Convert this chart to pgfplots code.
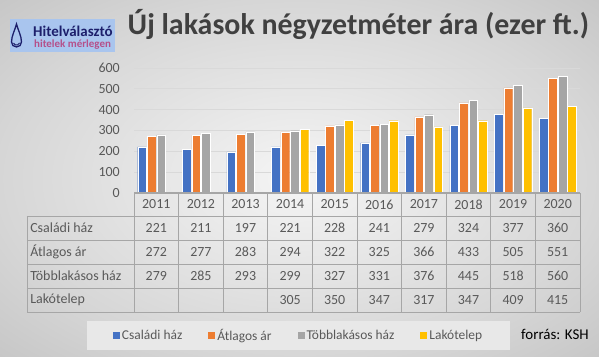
\documentclass[border=0pt]{standalone}
\usepackage{pgfplots}
\pgfplotsset{compat=1.18}
\usepackage{fontspec}
\setmainfont{Carlito}[BoldFont={Carlito Bold}]
\definecolor{cblue}{HTML}{4472C4}
\definecolor{corange}{HTML}{ED7D31}
\definecolor{cgray}{HTML}{A5A5A5}
\definecolor{cgold}{HTML}{FFC000}
\definecolor{txt}{HTML}{595959}
\definecolor{titlecol}{HTML}{404040}
\definecolor{linecol}{HTML}{A6A6A6}
\definecolor{gridcol}{HTML}{D9D9D9}
\definecolor{logobg}{HTML}{A9C5EE}
\definecolor{navy}{HTML}{1C1F6B}
\definecolor{logopink}{HTML}{B5508A}
\tikzset{tl/.style={linecol, line width=0.8pt}}
\pgfdeclareradialshading{bgshade}{\pgfpoint{0bp}{0bp}}{color(0bp)=(gray!8); color(25bp)=(gray!32); color(35.4bp)=(gray!44); color(50bp)=(gray!44)}
\begin{document}
\begin{tikzpicture}
\path[use as bounding box] (0,0) rectangle (599bp,-357bp);
\shade[shading=bgshade] (0,0) rectangle (599bp,-357bp);
% logo
\fill[logobg] (10bp,-19bp) rectangle (115bp,-52bp);
\draw[navy, line width=1.3bp] (16.5bp,-24bp) .. controls (15bp,-30bp) and (11.5bp,-36bp) .. (11.5bp,-42bp) arc[start angle=180, end angle=360, radius=5bp] .. controls (21.5bp,-36bp) and (18bp,-30bp) .. cycle;
\draw[navy, line width=1bp] (13.5bp,-43bp) arc[start angle=200, end angle=340, radius=3.2bp];
\node[anchor=base west, inner sep=0pt, text depth=0pt, text=navy, font=\bfseries\fontsize{15}{16}\selectfont] at (33bp,-36.5bp) {Hitelválasztó};
\node[anchor=base west, inner sep=0pt, text height=7bp, text=logopink, font=\bfseries\fontsize{11}{12}\selectfont] at (34bp,-47bp) {hitelek mérlegen};
% title
\node[anchor=base, inner sep=0pt, text=titlecol, font=\bfseries\fontsize{30}{34}\selectfont] at (358.5bp,-34bp) {Új lakások négyzetméter ára (ezer ft.)};
\node[anchor=center, inner sep=0pt, text=black, font=\fontsize{15}{17}\selectfont] at (555bp,-334.5bp) {forrás: KSH};
\begin{axis}[
  at={(134bp,-193bp)}, anchor=south west,
  scale only axis, width=446bp, height=125bp,
  xmin=-0.5, xmax=9.5, ymin=0, ymax=600,
  xtick=\empty,
  ytick={0,100,...,600},
  ymajorgrids, grid style={gridcol, line width=0.9pt},
  axis line style={draw=none}, tick style={draw=none},
  yticklabel style={font=\fontsize{14}{16}\selectfont, text=txt, inner sep=0pt},
  /pgf/number format/assume math mode=true,
  yticklabel shift=14bp,
  clip=false,
  bar width=0.195,
  legend columns=4,
  legend style={at={(0.369,-1.14)}, anchor=center, fill=black!9, draw=none,
    font=\fontsize{13.5}{16}\selectfont, text=txt, inner xsep=26bp, inner ysep=6bp,
    /tikz/every even column/.append style={column sep=24bp}},
  legend image code/.code={\fill[#1, draw=none, /tikz/.cd] (0bp,-3.5bp) rectangle (7bp,3.5bp);},
]
\addplot[ybar, bar shift=-0.32, fill=cblue, draw=white, line width=0.3pt] coordinates {(0,221) (1,211) (2,197) (3,221) (4,228) (5,241) (6,279) (7,324) (8,377) (9,360)};
\addlegendentry{Családi ház}
\addplot[ybar, bar shift=-0.107, fill=corange, draw=white, line width=0.3pt] coordinates {(0,272) (1,277) (2,283) (3,294) (4,322) (5,325) (6,366) (7,433) (8,505) (9,551)};
\addlegendentry{Átlagos ár}
\addplot[ybar, bar shift=0.107, fill=cgray, draw=white, line width=0.3pt] coordinates {(0,279) (1,285) (2,293) (3,299) (4,327) (5,331) (6,376) (7,445) (8,518) (9,560)};
\addlegendentry{Többlakásos ház}
\addplot[ybar, bar shift=0.32, fill=cgold, draw=white, line width=0.3pt] coordinates {(3,305) (4,350) (5,347) (6,317) (7,347) (8,409) (9,415)};
\addlegendentry{Lakótelep}
% axis base line
\draw[linecol, line width=1.2pt] (axis cs:-0.5,0) -- (axis cs:9.5,0);
% table grid
\draw[tl] (axis cs:-2.9,-110) -- (axis cs:9.5,-110);
\draw[tl] (axis cs:-2.9,-226) -- (axis cs:9.5,-226);
\draw[tl] (axis cs:-2.9,-341) -- (axis cs:9.5,-341);
\draw[tl] (axis cs:-2.9,-456) -- (axis cs:9.5,-456);
\draw[tl] (axis cs:-2.9,-571) -- (axis cs:9.5,-571);
\draw[tl] (axis cs:-2.9,-110) -- (axis cs:-2.9,-571);
\draw[tl] (axis cs:-0.5,0) -- (axis cs:-0.5,-571);
\draw[tl] (axis cs:0.5,0) -- (axis cs:0.5,-571);
\draw[tl] (axis cs:1.5,0) -- (axis cs:1.5,-571);
\draw[tl] (axis cs:2.5,0) -- (axis cs:2.5,-571);
\draw[tl] (axis cs:3.5,0) -- (axis cs:3.5,-571);
\draw[tl] (axis cs:4.5,0) -- (axis cs:4.5,-571);
\draw[tl] (axis cs:5.5,0) -- (axis cs:5.5,-571);
\draw[tl] (axis cs:6.5,0) -- (axis cs:6.5,-571);
\draw[tl] (axis cs:7.5,0) -- (axis cs:7.5,-571);
\draw[tl] (axis cs:8.5,0) -- (axis cs:8.5,-571);
\draw[tl] (axis cs:9.5,0) -- (axis cs:9.5,-571);
% table text
\pgfplotsset{tabrow/.style={forget plot, only marks, mark=*, mark size=0pt, mark options={draw=none, fill=none},
  nodes near coords, point meta=explicit symbolic,
  nodes near coords style={anchor=center, inner sep=0pt, text=txt, font=\fontsize{14}{16}\selectfont}}}
\addplot[tabrow] coordinates {(0,-55)[2011] (1,-55)[2012] (2,-55)[2013] (3,-55)[2014] (4,-55)[2015] (5,-55)[2016] (6,-55)[2017] (7,-55)[2018] (8,-55)[2019] (9,-55)[2020]};
\addplot[tabrow] coordinates {(0,-168)[221] (1,-168)[211] (2,-168)[197] (3,-168)[221] (4,-168)[228] (5,-168)[241] (6,-168)[279] (7,-168)[324] (8,-168)[377] (9,-168)[360]};
\addplot[tabrow] coordinates {(0,-283)[272] (1,-283)[277] (2,-283)[283] (3,-283)[294] (4,-283)[322] (5,-283)[325] (6,-283)[366] (7,-283)[433] (8,-283)[505] (9,-283)[551]};
\addplot[tabrow] coordinates {(0,-398)[279] (1,-398)[285] (2,-398)[293] (3,-398)[299] (4,-398)[327] (5,-398)[331] (6,-398)[376] (7,-398)[445] (8,-398)[518] (9,-398)[560]};
\addplot[tabrow] coordinates {(3,-514)[305] (4,-514)[350] (5,-514)[347] (6,-514)[317] (7,-514)[347] (8,-514)[409] (9,-514)[415]};
\node[anchor=west, inner sep=0pt, text=txt, font=\fontsize{14}{16}\selectfont] at (axis cs:-2.83,-168) {Családi ház};
\node[anchor=west, inner sep=0pt, text=txt, font=\fontsize{14}{16}\selectfont] at (axis cs:-2.83,-283) {Átlagos ár};
\node[anchor=west, inner sep=0pt, text=txt, font=\fontsize{14}{16}\selectfont] at (axis cs:-2.83,-398) {Többlakásos ház};
\node[anchor=west, inner sep=0pt, text=txt, font=\fontsize{14}{16}\selectfont] at (axis cs:-2.83,-514) {Lakótelep};
\end{axis}
\end{tikzpicture}
\end{document}
